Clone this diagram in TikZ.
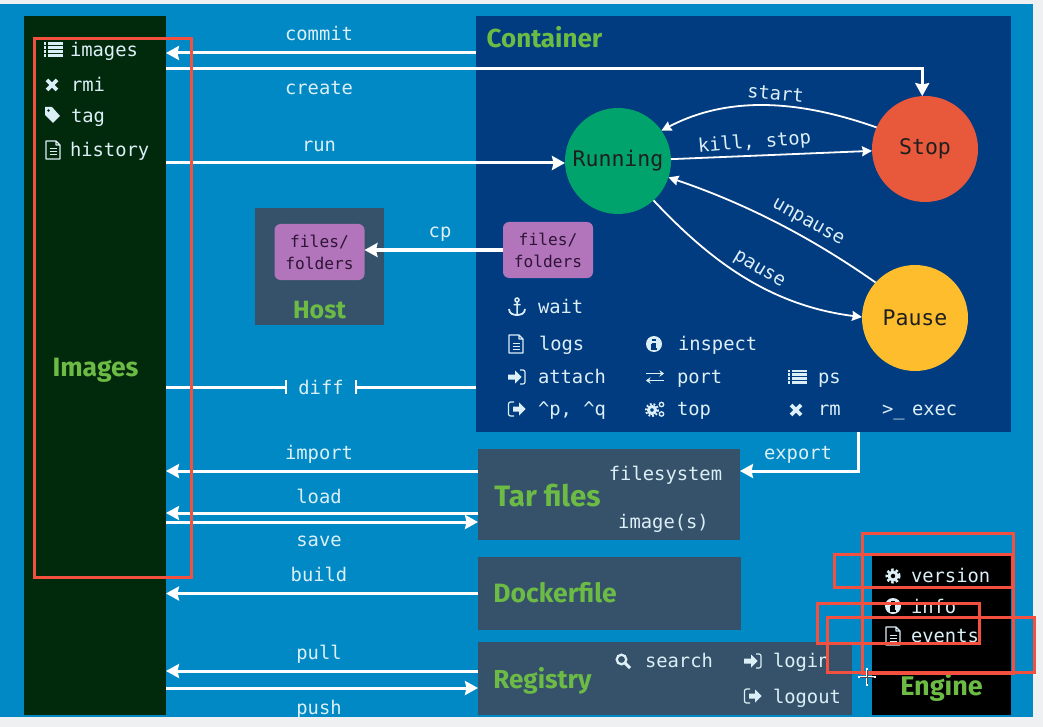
\documentclass[tikz,border=0pt]{standalone}
\usepackage{fontspec}
\setmainfont{DejaVu Sans Mono}
\newfontfamily\headfont{Fira Sans}
\usetikzlibrary{arrows.meta,calc}
\definecolor{pagebg}{HTML}{EEF0F1}
\definecolor{bluebg}{HTML}{0089C5}
\definecolor{contbg}{HTML}{013B80}
\definecolor{imgbg}{HTML}{012A0D}
\definecolor{slatebg}{HTML}{36526B}
\definecolor{purplebg}{HTML}{B274BB}
\definecolor{filestxt}{HTML}{2E1436}
\definecolor{headgreen}{HTML}{6CBB45}
\definecolor{txt}{HTML}{DCEFF6}
\definecolor{redline}{HTML}{F4503F}
\definecolor{runcol}{HTML}{00A36C}
\definecolor{stopcol}{HTML}{E8593B}
\definecolor{pausecol}{HTML}{FDBD2C}
\newcommand{\fs}[1]{\fontsize{#1}{#1}\selectfont}
\tikzset{
  x=1pt,y=-1pt,
  panel/.style={draw=none,inner sep=0pt,outer sep=0pt},
  filesbox/.style={panel,fill=purplebg,rounded corners=6pt,minimum width=90pt,minimum height=56pt,align=center,text=filestxt,font=\fontsize{16.2}{22}\selectfont},
  state/.style={circle,inner sep=0pt,outer sep=0pt,minimum size=106pt,font=\fs{21.5},text=black!88},
  lbl/.style={text=txt,font=\fs{18.8},inner sep=0pt,outer sep=0pt,anchor=base},
  lleft/.style={lbl,anchor=base west},
  head/.style={text=headgreen,inner sep=0pt,outer sep=0pt,anchor=base,font=\headfont\bfseries\fs{#1}},
  thick arrow/.style={draw=white,line width=3pt,-{Stealth[length=13pt,width=14pt,inset=1.5pt]}},
  thin arrow/.style={draw=white,line width=1.8pt,-{Stealth[length=10pt,width=10pt,inset=1pt]}},
  barline/.style={draw=white,line width=3pt,-{Bar[width=14pt,line width=2.2pt]}},
  redbox/.style={draw=redline,line width=3pt,inner sep=0pt,outer sep=0pt},
  listicon/.pic={\foreach \yy in {-7.5,-3.6,0.3,4.2}{\fill[txt] (-9.5,\yy) rectangle (-6.6,\yy+2.7); \fill[txt] (-5.2,\yy) rectangle (9.5,\yy+2.7);}},
  xicon/.pic={\draw[txt,line width=3.6pt] (-5,-5)--(5,5) (-5,5)--(5,-5);},
  tagicon/.pic={\fill[txt,even odd rule] (-7,-8)--(0,-8)--(8,1)--(1,8)--(-7,0)--cycle (-3.5,-4.5) circle (1.6);},
  docicon/.pic={\draw[txt,line width=1.1pt,line join=round] (-7,-9)--(3,-9)--(7,-5)--(7,9)--(-7,9)--cycle (3,-9)--(3,-5)--(7,-5);
    \draw[txt,line width=1pt] (-3.5,-1)--(3.5,-1) (-3.5,2)--(3.5,2) (-3.5,5)--(3.5,5);},
  anchoricon/.pic={\draw[txt,line width=1.5pt] (0,-7) circle (2) (0,-5)--(0,8) (-3.5,-2.5)--(3.5,-2.5);
    \draw[txt,line width=1.8pt] (-8,2) .. controls (-8,7) and (-3,8) .. (0,8) .. controls (3,8) and (8,7) .. (8,2);},
  infoicon/.pic={\fill[txt] (0,0) circle (8); \fill[#1] (-1.6,-5.5) rectangle (1.6,-2.7); \fill[#1] (-2.6,-1.2) rectangle (1.7,3.6); \fill[#1] (-2.6,3.6) rectangle (3,5.8); \fill[txt] (-2.8,-1.2) rectangle (-1.6,0.3);},
  attachicon/.pic={\fill[txt] (-9,-2.5)--(-2,-2.5)--(-2,-6.5)--(4.5,0)--(-2,6.5)--(-2,2.5)--(-9,2.5)--cycle;
    \draw[txt,line width=1.2pt,rounded corners=2pt] (3,-7)--(8,-7)--(8,7)--(3,7);},
  detachicon/.pic={\fill[txt] (-4,-2.5)--(2,-2.5)--(2,-6.5)--(8.5,0)--(2,6.5)--(2,2.5)--(-4,2.5)--cycle;
    \draw[txt,line width=1.2pt,rounded corners=2pt] (-3,-7)--(-8.5,-7)--(-8.5,7)--(-3,7);},
  porticon/.pic={\draw[txt,line width=1.8pt,-{Stealth[length=4.5pt,width=6.5pt]}] (-9,-3.5)--(9,-3.5);
    \draw[txt,line width=1.8pt,-{Stealth[length=4.5pt,width=6.5pt]}] (9,3.5)--(-9,3.5);},
  gearsicon/.pic={\draw[txt,line width=3pt] (-3,1) circle (3.5);
    \draw[txt,line width=2pt,dash pattern=on 1.8pt off 1.9pt] (-3,1) circle (6);
    \draw[txt,line width=1.3pt] (6.5,-4.5) circle (2.2) (6.5,5) circle (2.2);},
  gearicon/.pic={\draw[txt,line width=3pt] (0,0) circle (4);
    \draw[txt,line width=2.5pt,dash pattern=on 2.5pt off 2.1pt] (0,0) circle (6.3);},
  searchicon/.pic={\draw[txt,line width=2.3pt] (-1.5,-1.5) circle (4.8); \draw[txt,line width=3pt] (2,2)--(7,7);},
}
\begin{document}
\begin{tikzpicture}
\useasboundingbox (0,0) rectangle (1043,727);
\fill[pagebg] (0,0) rectangle (1043,727);
\fill[bluebg] (0,4) rectangle (1033,717);
% panels
\node[panel,fill=imgbg,minimum width=142pt,minimum height=699pt] (images) at (95,365.5) {};
\node[panel,fill=contbg,minimum width=535pt,minimum height=416pt] (container) at (743.5,224) {};
\node[panel,fill=slatebg,minimum width=129pt,minimum height=117pt] (host) at (319.5,266.5) {};
\node[panel,fill=slatebg,minimum width=262pt,minimum height=91pt] (tar) at (609,494.5) {};
\node[panel,fill=slatebg,minimum width=263pt,minimum height=73pt] (docker) at (609.5,593.5) {};
\node[panel,fill=slatebg,minimum width=374pt,minimum height=73pt] (registry) at (665,678.5) {};
\node[panel,fill=black,minimum width=139pt,minimum height=160pt] (engine) at (941.5,635) {};
\node[filesbox] (hostfiles) at (319.5,252) {files/\\folders};
\node[filesbox] (contfiles) at (548,250) {files/\\folders};
% states
\node[state,fill=runcol] (running) at (618,161) {Running};
\node[state,fill=stopcol] (stop) at (925,149) {Stop};
\node[state,fill=pausecol] (pause) at (915,318) {Pause};
% rows
\coordinate (rowcommit) at (0,53);
\coordinate (rowcreate) at (0,69);
\coordinate (rowrun) at (0,163);
\coordinate (rowimport) at (0,471);
\coordinate (rowload) at (0,513);
\coordinate (rowsave) at (0,522);
\coordinate (rowpull) at (0,671);
\coordinate (rowpush) at (0,688);
\coordinate (exportx) at (858,0);
% headings
\node[head=26] (hcontainer) at (544.5,48) {Container};
\node[head=26.5] (himages) at (95.5,376) {Images};
\node[head=25] (hhost) at (319.5,318.5) {Host};
\node[head=29.5] (htar) at (547.5,506) {Tar files};
\node[head=26.5] (hdocker) at (555,602) {Dockerfile};
\node[head=26] (hregistry) at (542.5,688) {Registry};
\node[head=27] (hengine) at (941.5,695) {Engine};
% connector labels
\node[lbl] (lcommit) at (319,41) {commit};
\node[lbl] (lcreate) at (319,95) {create};
\node[lbl] (lrun) at (319,152) {run};
\node[lbl] (lcp) at (440,238) {cp};
\node[lbl,anchor=center,minimum width=68pt,minimum height=20pt] (diff) at (321,387) {diff};
\node[lbl] (limport) at (319,459) {import};
\node[lbl] (lload) at (319,503) {load};
\node[lbl] (lsave) at (319,546) {save};
\node[lbl] (lbuild) at (319,581) {build};
\node[lbl] (lpull) at (319,659) {pull};
\node[lbl] (lpush) at (319,714) {push};
\node[lbl] (lexport) at (798,459) {export};
\node[lbl,rotate=-5] (lstart) at (775,100) {start};
\node[lbl,rotate=5] (lkill) at (755,148) {kill, stop};
\node[lbl,rotate=-29] (lunpause) at (806,226) {unpause};
\node[lbl,rotate=-31] (lpause) at (757,273) {pause};
% connectors
\draw[thick arrow] (container.west |- rowcommit) -- (images.east |- rowcommit);
\draw[thick arrow] (images.east |- rowcreate) -- (stop.93 |- rowcreate) -- (stop.93);
\draw[thick arrow] (images.east |- rowrun) -- (running.west |- rowrun);
\draw[thick arrow] (contfiles.west) -- (contfiles.west -| hostfiles.east);
\draw[barline] (images.east |- diff) -- (diff.west);
\draw[barline] (container.west |- diff) -- (diff.east);
\draw[thick arrow] (exportx |- container.south) -- (exportx |- rowimport) -- (tar.east |- rowimport);
\draw[thick arrow] (tar.west |- rowimport) -- (images.east |- rowimport);
\draw[thick arrow] (tar.west |- rowload) -- (images.east |- rowload);
\draw[thick arrow] (images.east |- rowsave) -- (tar.west |- rowsave);
\draw[thick arrow] (docker.west) -- (images.east |- docker.west);
\draw[thick arrow] (registry.west |- rowpull) -- (images.east |- rowpull);
\draw[thick arrow] (images.east |- rowpush) -- (registry.west |- rowpush);
\draw[thin arrow] (stop.156) .. controls (810,104) and (735,92) .. (running.35);
\draw[thin arrow] (running.2) -- (stop.182);
\draw[thin arrow] (pause.138) .. controls (815,240) and (750,205) .. (running.-18);
\draw[thin arrow] (running.-48) .. controls (705,255) and (765,305) .. (pause.179);
% image commands
\pic at (53,50) {listicon};
\node[lleft] (timages) at (70,56.5) {images};
\pic at (52,85) {xicon};
\node[lleft] (trmi) at (71,91.5) {rmi};
\pic at (52,115) {tagicon};
\node[lleft] (ttag) at (71,123) {tag};
\pic at (53,150) {docicon};
\node[lleft] (thistory) at (70,157) {history};
% container commands
\pic at (517,307) {anchoricon};
\node[lleft] (twait) at (538,313) {wait};
\pic at (516,344) {docicon};
\node[lleft] (tlogs) at (539,350) {logs};
\pic at (654,344) {infoicon=contbg};
\node[lleft] (tinspect) at (678,350) {inspect};
\pic at (517,377) {attachicon};
\node[lleft] (tattach) at (538,383) {attach};
\pic at (655,377) {porticon};
\node[lleft] (tport) at (677,383) {port};
\pic at (797,377) {listicon};
\node[lleft] (tps) at (818,383) {ps};
\pic at (517,409) {detachicon};
\node[lleft] (tdetach) at (538,415) {\^{}p, \^{}q};
\pic at (655,409) {gearsicon};
\node[lleft] (ttop) at (677,415) {top};
\pic at (796,410) {xicon};
\node[lleft] (trm) at (818,415) {rm};
\node[lleft] (tprompt) at (882,415) {>\_};
\node[lleft] (texec) at (912,415) {exec};
% tar
\node[lbl] (tfs) at (665.5,480) {filesystem};
\node[lbl] (timgs) at (663.5,528) {image(s)};
% registry
\pic at (623,661) {searchicon};
\node[lleft] (tsearch) at (645,667) {search};
\pic at (753,661) {attachicon};
\node[lleft] (tlogin) at (773,667) {login};
\pic at (753,696) {detachicon};
\node[lleft] (tlogout) at (773,703) {logout};
% engine
\pic at (893,576) {gearicon};
\node[lleft] (tversion) at (911,582) {version};
\pic at (893,606) {infoicon=black};
\node[lleft] (tinfo) at (911,613) {info};
\pic at (893,636) {docicon};
\node[lleft] (tevents) at (911,642) {events};
% red annotation boxes
\node[redbox,minimum width=157pt,minimum height=538pt] (red1) at (112.5,308) {};
\node[redbox,minimum width=151pt,minimum height=140pt] (red2) at (937.5,603) {};
\node[redbox,minimum width=178pt,minimum height=33pt] (red3) at (923,570.5) {};
\node[redbox,minimum width=162pt,minimum height=40pt] (red4) at (898,623) {};
\node[redbox,minimum width=207pt,minimum height=55pt] (red5) at (930.5,644.5) {};
% cursor
\coordinate (cursor) at (867,677);
\draw[white,line width=2.2pt] ($(cursor)+(-9,0)$) -- ($(cursor)+(9,0)$) ($(cursor)+(0,-9)$) -- ($(cursor)+(0,9)$);
\draw[black!70,line width=.6pt] ($(cursor)+(-7,0)$) -- ($(cursor)+(7,0)$) ($(cursor)+(0,-7)$) -- ($(cursor)+(0,7)$);
\end{tikzpicture}
\end{document}
